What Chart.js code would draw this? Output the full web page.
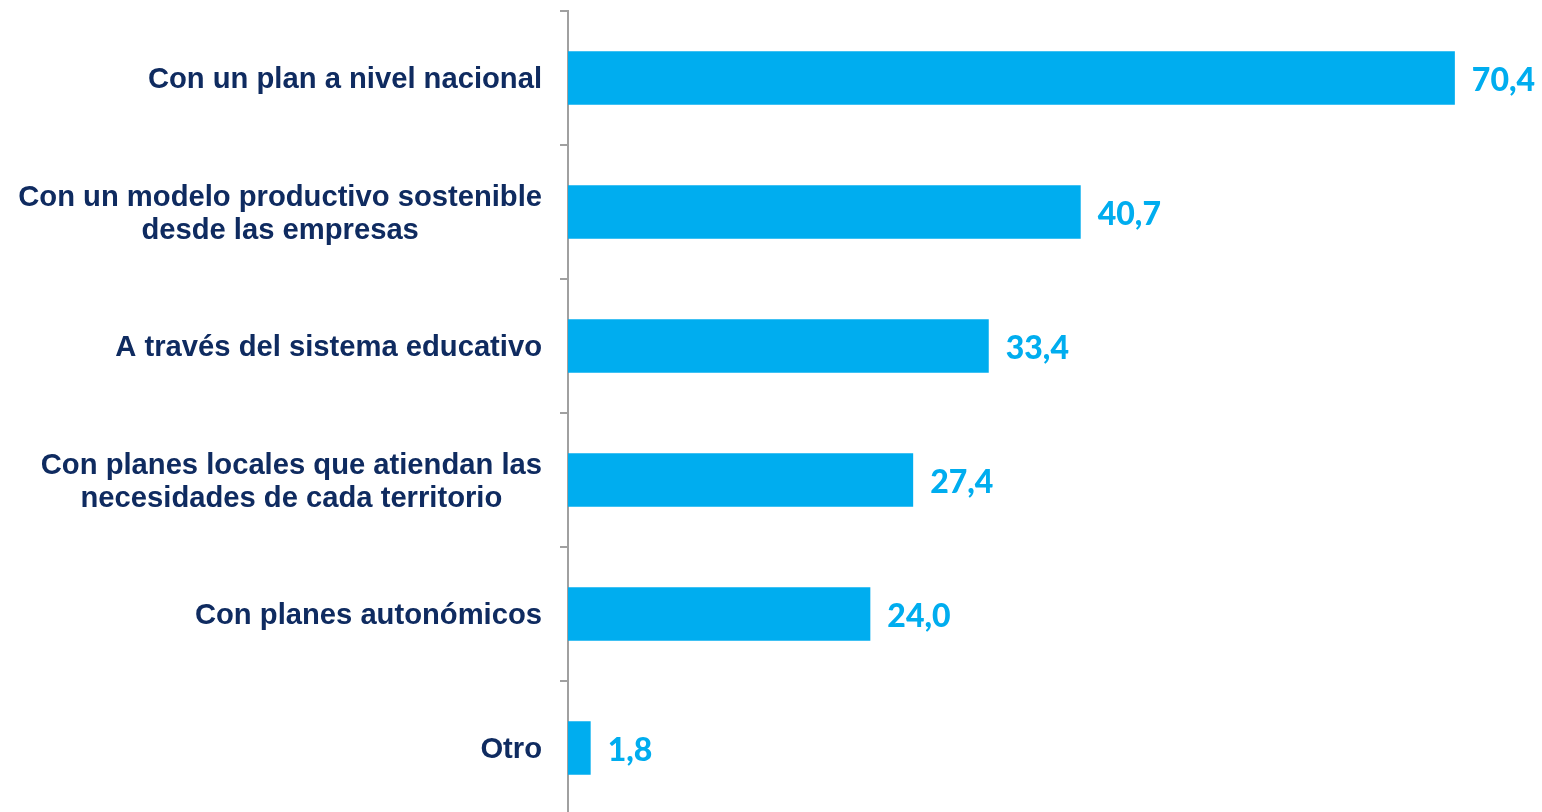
<!DOCTYPE html>
<html>
<head>
<meta charset="utf-8">
<script src="https://cdn.jsdelivr.net/npm/chart.js@4/dist/chart.umd.min.js"></script>
<style>
  html, body { margin: 0; padding: 0; background: #ffffff; overflow: hidden; }
  #wrap { width: 1542px; height: 815px; }
</style>
</head>
<body>
<div id="wrap"><canvas id="myChart" width="1542" height="815"></canvas></div>
<script>
// categories, one array of lines per label
var categories = [
  ["Con un plan a nivel nacional"],
  ["Con un modelo productivo sostenible", "desde las empresas"],
  ["A través del sistema educativo"],
  ["Con planes locales que atiendan las", "necesidades de cada territorio"],
  ["Con planes autonómicos"],
  ["Otro"]
];
var values = [70.4, 40.7, 33.4, 27.4, 24.0, 1.8];

var barColor = '#00adef';
var labelColor = '#0f2b60';
var axisColor = '#a0a0a0';

function formatValue(v) {
  return v.toFixed(1).replace('.', ',');
}

// category names: block right aligned, lines centered with each other
var categoryLabels = {
  id: 'categoryLabels',
  afterDatasetsDraw: function (chart) {
    var ctx = chart.ctx;
    var yScale = chart.scales.y;
    var right = chart.chartArea.left - 26;
    var lineHeight = 33;
    ctx.save();
    ctx.font = 'bold 29.2px "Liberation Sans", Arial, sans-serif';
    ctx.fillStyle = labelColor;
    ctx.textAlign = 'center';
    ctx.textBaseline = 'middle';
    for (var i = 0; i < categories.length; i++) {
      var lines = categories[i];
      var maxW = 0;
      for (var j = 0; j < lines.length; j++) {
        maxW = Math.max(maxW, ctx.measureText(lines[j]).width);
      }
      var cx = right - maxW / 2;
      var y0 = yScale.getPixelForValue(i) + 2 - (lines.length - 1) * lineHeight / 2;
      for (var j = 0; j < lines.length; j++) {
        ctx.fillText(lines[j], cx, y0 + j * lineHeight);
      }
    }
    ctx.restore();
  }
};

// value at the end of each bar
var valueLabels = {
  id: 'valueLabels',
  afterDatasetsDraw: function (chart) {
    var ctx = chart.ctx;
    var meta = chart.getDatasetMeta(0);
    ctx.save();
    ctx.font = '900 32px Lato, "Open Sans", sans-serif';
    ctx.fillStyle = barColor;
    ctx.textAlign = 'left';
    ctx.textBaseline = 'middle';
    meta.data.forEach(function (bar, i) {
      ctx.fillText(formatValue(values[i]), bar.x + 17, bar.y + 3);
    });
    ctx.restore();
  }
};

const ctx = document.getElementById('myChart').getContext('2d');
const myChart = new Chart(ctx, {
  type: 'bar',
  data: {
    labels: categories.map(function (l) { return l.join(' '); }),
    datasets: [{
      data: values,
      backgroundColor: barColor,
      borderWidth: 0,
      barPercentage: 0.4,
      categoryPercentage: 1
    }]
  },
  options: {
    indexAxis: 'y',
    responsive: false,
    animation: false,
    layout: {
      padding: { top: 11, right: 4, bottom: 0, left: 0 }
    },
    plugins: {
      legend: { display: false },
      tooltip: { enabled: false }
    },
    scales: {
      x: {
        display: false,
        min: 0,
        max: 77
      },
      y: {
        afterFit: function (scale) {
          scale.width = 568;
        },
        ticks: { display: false },
        grid: {
          display: true,
          offset: true,
          drawOnChartArea: false,
          drawTicks: true,
          tickLength: 8,
          color: axisColor,
          lineWidth: 2
        },
        border: {
          display: true,
          color: axisColor,
          width: 2
        }
      }
    }
  },
  plugins: [categoryLabels, valueLabels]
});
</script>
</body>
</html>
